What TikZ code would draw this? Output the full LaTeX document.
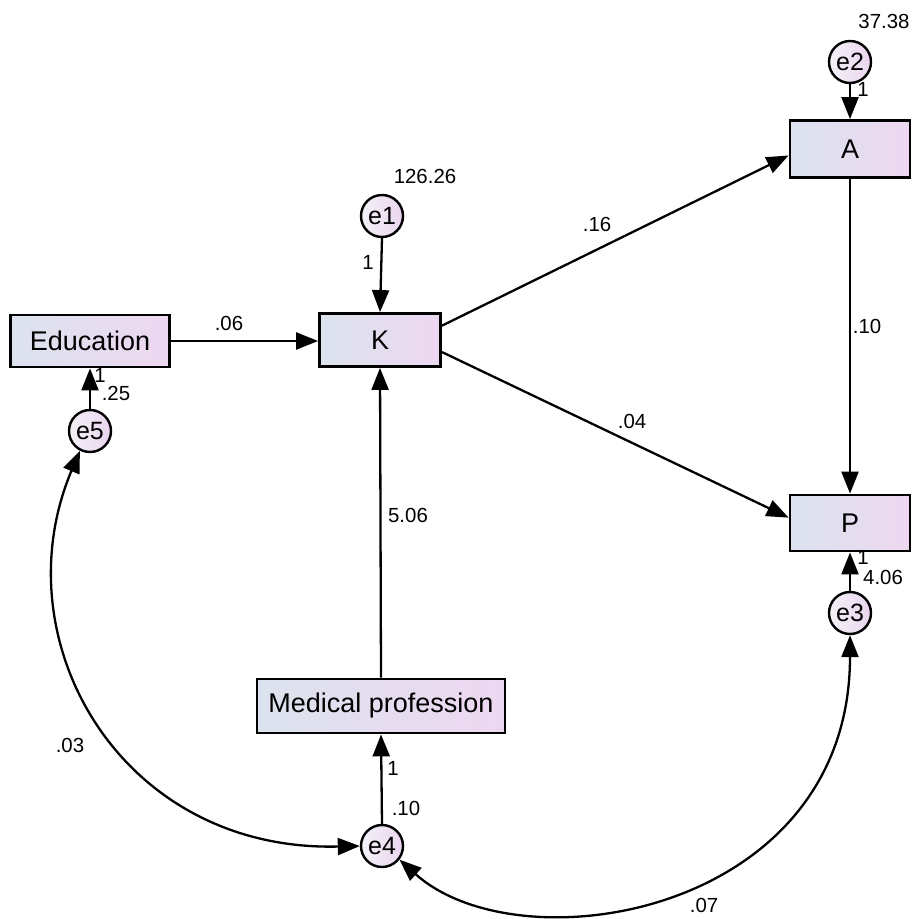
\documentclass[tikz,border=0pt]{standalone}
\usepackage{fontspec}
\setmainfont{Liberation Sans}
\usetikzlibrary{arrows.meta}
\definecolor{boxL}{HTML}{DCE3EE}
\definecolor{boxR}{HTML}{EDD7F0}
\definecolor{cirL}{HTML}{F3F1F7}
\definecolor{cirR}{HTML}{EAD5EF}
\begin{document}
\begin{tikzpicture}[x=0.5pt,y=-0.5pt,
 obs/.style={rectangle,draw=black,line width=1.4pt,left color=boxL,right color=boxR,inner sep=0pt,font=\fontsize{13.5}{15}\selectfont},
 err/.style={circle,draw=black,line width=1.2pt,left color=cirL,right color=cirR,minimum size=21pt,inner sep=0pt,font=\fontsize{12.5}{14}\selectfont},
 conn/.style={line width=1.15pt,-{Triangle[length=11pt,width=8.5pt]}},
 cov/.style={line width=1.15pt,{Triangle[length=11pt,width=8.5pt]}-{Triangle[length=11pt,width=8.5pt]}},
 lbl/.style={font=\fontsize{10.2}{12}\selectfont,inner sep=0pt}]
\useasboundingbox (0,0) rectangle (915,919);
% observed variables
\node[obs,minimum width=79.5pt,minimum height=26pt] (edu) at (90,341) {Education};
\node[obs,minimum width=60.5pt,minimum height=26.5pt] (K) at (380,340) {K};
\node[obs,minimum width=60pt,minimum height=28.5pt] (A) at (850,149) {A};
\node[obs,minimum width=60pt,minimum height=28pt] (P) at (850,523) {P};
\node[obs,minimum width=124pt,minimum height=27pt] (med) at (381,706) {Medical profession};
% errors
\node[err] (e1) at (382,216) {e1};
\node[err] (e2) at (850,62) {e2};
\node[err] (e3) at (850,613) {e3};
\node[err] (e4) at (382,846) {e4};
\node[err] (e5) at (90,431) {e5};
% paths
\draw[conn] (K.13) -- (A.186);
\draw[conn] (K.-11) -- (P.175);
\draw[conn] (A.south) -- (P.north);
\draw[conn] (edu.east) -- (K.west |- edu.east);
\draw[conn] (med.north) -- (K.south);
\draw[conn] (e1.south) -- (K.north);
\draw[conn] (e2.south) -- (A.north);
\draw[conn] (e3.north) -- (P.south);
\draw[conn] (e4.north) -- (med.south);
\draw[conn] (e5.north) -- (edu.south);
% covariances
\draw[cov] (e5.243) .. controls (0,640) and (120,852) .. (e4.west);
\draw[cov] (e4.-38) .. controls (520,968) and (850,915) .. (e3.south);
% labels
\node[lbl] (l1) at (884,21) {37.38};
\node[lbl] (l2) at (425,176) {126.26};
\node[lbl] (l3) at (368,262) {1};
\node[lbl] (l4) at (863,89) {1};
\node[lbl] (l5) at (100,375) {1};
\node[lbl] (l6) at (116,393) {.25};
\node[lbl] (l7) at (863,557) {1};
\node[lbl] (l8) at (883,577) {4.06};
\node[lbl] (l9) at (393,768) {1};
\node[lbl] (l10) at (406,808) {.10};
\node[lbl] (l11) at (704,905) {.07};
\node[lbl] (l12) at (597,224) {.16};
\node[lbl] (l13) at (229,323) {.06};
\node[lbl] (l14) at (867,326) {.10};
\node[lbl] (l15) at (632,421) {.04};
\node[lbl] (l16) at (408,515) {5.06};
\node[lbl] (l17) at (70,745) {.03};
\end{tikzpicture}
\end{document}
